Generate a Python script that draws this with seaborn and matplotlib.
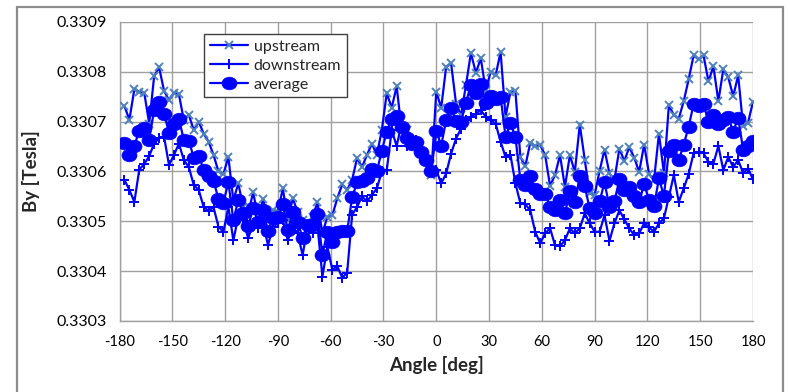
import numpy as np
import pandas as pd
import matplotlib
matplotlib.use("Agg")
import matplotlib.pyplot as plt
from matplotlib.path import Path
from matplotlib.patches import Rectangle
from matplotlib.ticker import MultipleLocator, FormatStrFormatter
import seaborn as sns

# Sampling angles: 128 steps over a full turn
angles = np.linspace(-177.1875, 180.0, 128)

upstream = [
    0.330731, 0.330704, 0.330765, 0.330760, 0.330758, 0.330696, 0.330791, 0.330809, 0.330762, 0.330743,
    0.330758, 0.330755, 0.330703, 0.330714, 0.330683, 0.330700, 0.330676, 0.330660, 0.330633, 0.330600,
    0.330595, 0.330629, 0.330542, 0.330576, 0.330529, 0.330516, 0.330558, 0.330509, 0.330544, 0.330509,
    0.330522, 0.330519, 0.330566, 0.330502, 0.330546, 0.330519, 0.330502, 0.330496, 0.330509, 0.330538,
    0.330476, 0.330509, 0.330512, 0.330546, 0.330574, 0.330563, 0.330583, 0.330627, 0.330609, 0.330633,
    0.330656, 0.330633, 0.330683, 0.330757, 0.330728, 0.330771, 0.330683, 0.330683, 0.330655, 0.330656,
    0.330636, 0.330623, 0.330593, 0.330760, 0.330728, 0.330810, 0.330817, 0.330736, 0.330713, 0.330773,
    0.330838, 0.330798, 0.330827, 0.330763, 0.330800, 0.330793, 0.330840, 0.330710, 0.330760, 0.330761,
    0.330629, 0.330611, 0.330658, 0.330651, 0.330653, 0.330633, 0.330571, 0.330593, 0.330633, 0.330569,
    0.330633, 0.330599, 0.330694, 0.330624, 0.330556, 0.330553, 0.330601, 0.330644, 0.330596, 0.330583,
    0.330646, 0.330621, 0.330649, 0.330628, 0.330599, 0.330654, 0.330595, 0.330583, 0.330676, 0.330596,
    0.330733, 0.330713, 0.330706, 0.330741, 0.330785, 0.330833, 0.330825, 0.330833, 0.330781, 0.330811,
    0.330741, 0.330805, 0.330789, 0.330751, 0.330793, 0.330691, 0.330698, 0.330740,
]

downstream = [
    0.330583, 0.330563, 0.330539, 0.330604, 0.330615, 0.330631, 0.330656, 0.330668, 0.330670, 0.330613,
    0.330633, 0.330656, 0.330623, 0.330609, 0.330573, 0.330563, 0.330529, 0.330521, 0.330528, 0.330489,
    0.330479, 0.330529, 0.330462, 0.330509, 0.330502, 0.330466, 0.330496, 0.330486, 0.330499, 0.330452,
    0.330489, 0.330496, 0.330502, 0.330462, 0.330489, 0.330476, 0.330432, 0.330489, 0.330476, 0.330492,
    0.330389, 0.330449, 0.330403, 0.330410, 0.330387, 0.330397, 0.330513, 0.330529, 0.330550, 0.330540,
    0.330553, 0.330566, 0.330600, 0.330603, 0.330683, 0.330651, 0.330696, 0.330651, 0.330655, 0.330663,
    0.330643, 0.330623, 0.330606, 0.330603, 0.330576, 0.330596, 0.330636, 0.330666, 0.330686, 0.330703,
    0.330710, 0.330716, 0.330723, 0.330710, 0.330703, 0.330696, 0.330660, 0.330629, 0.330633, 0.330576,
    0.330536, 0.330534, 0.330522, 0.330479, 0.330456, 0.330476, 0.330486, 0.330452, 0.330450, 0.330462,
    0.330486, 0.330476, 0.330486, 0.330516, 0.330496, 0.330479, 0.330479, 0.330512, 0.330461, 0.330496,
    0.330522, 0.330504, 0.330486, 0.330472, 0.330476, 0.330496, 0.330488, 0.330479, 0.330496, 0.330506,
    0.330549, 0.330593, 0.330539, 0.330566, 0.330595, 0.330637, 0.330639, 0.330637, 0.330619, 0.330616,
    0.330651, 0.330603, 0.330629, 0.330609, 0.330623, 0.330597, 0.330606, 0.330584,
]

average = [
    0.330657, 0.330634, 0.330652, 0.330682, 0.330687, 0.330664, 0.330724, 0.330739, 0.330716, 0.330678,
    0.330696, 0.330706, 0.330663, 0.330662, 0.330628, 0.330632, 0.330603, 0.330591, 0.330581, 0.330545,
    0.330537, 0.330579, 0.330502, 0.330543, 0.330516, 0.330491, 0.330527, 0.330498, 0.330522, 0.330481,
    0.330506, 0.330508, 0.330534, 0.330482, 0.330518, 0.330498, 0.330467, 0.330493, 0.330493, 0.330515,
    0.330433, 0.330479, 0.330458, 0.330478, 0.330481, 0.330480, 0.330548, 0.330578, 0.330580, 0.330587,
    0.330605, 0.330600, 0.330642, 0.330680, 0.330706, 0.330711, 0.330690, 0.330667, 0.330655, 0.330660,
    0.330640, 0.330623, 0.330600, 0.330682, 0.330652, 0.330703, 0.330727, 0.330701, 0.330700, 0.330738,
    0.330774, 0.330757, 0.330775, 0.330737, 0.330752, 0.330745, 0.330750, 0.330670, 0.330697, 0.330669,
    0.330583, 0.330573, 0.330590, 0.330565, 0.330555, 0.330555, 0.330529, 0.330523, 0.330542, 0.330516,
    0.330560, 0.330538, 0.330590, 0.330570, 0.330526, 0.330516, 0.330540, 0.330578, 0.330529, 0.330540,
    0.330584, 0.330563, 0.330568, 0.330550, 0.330538, 0.330575, 0.330542, 0.330531, 0.330586, 0.330551,
    0.330641, 0.330653, 0.330623, 0.330654, 0.330690, 0.330735, 0.330732, 0.330735, 0.330700, 0.330714,
    0.330696, 0.330704, 0.330709, 0.330680, 0.330708, 0.330644, 0.330652, 0.330662,
]

series_names = ["upstream", "downstream", "average"]
x_ticks = [-180, -150, -120, -90, -60, -30, 0, 30, 60, 90, 120, 150, 180]

sns.set_theme(style="white")
plt.rcParams["font.family"] = ["Lato", "DejaVu Sans"]

fig = plt.figure(figsize=(7.9, 3.92), dpi=100)
ax = fig.add_axes([119.5 / 790, 1 - 321 / 392, (753 - 119.5) / 790, (321 - 22) / 392])

BLUE = "#0000FF"
GRID = "#A0A0A0"

# slightly flattened circle used for the average markers
circ = Path.unit_circle()
ellipse = Path(circ.vertices * np.array([1.0, 0.84]), circ.codes)

df = pd.DataFrame({"angle": angles, "upstream": upstream,
                   "downstream": downstream, "average": average})

sns.lineplot(data=df, x="angle", y="upstream", ax=ax, sort=False,
             color=BLUE, linewidth=1.6, marker="x", markersize=5.5,
             markeredgecolor="#4F81BD", markeredgewidth=1.4,
             label=series_names[0], zorder=3)
sns.lineplot(data=df, x="angle", y="downstream", ax=ax, sort=False,
             color=BLUE, linewidth=1.6, marker="+", markersize=6.5,
             markeredgecolor=BLUE, markeredgewidth=1.4,
             label=series_names[1], zorder=3)
sns.lineplot(data=df, x="angle", y="average", ax=ax, sort=False,
             color=BLUE, linewidth=1.6, marker=ellipse, markersize=10.8,
             markeredgecolor=BLUE, markerfacecolor=BLUE, markeredgewidth=0.5,
             label=series_names[2], zorder=4)

ax.set_xlim(-180, 180)
ax.set_ylim(0.3303, 0.3309)
ax.set_xticks(x_ticks)
ax.set_xticklabels([str(t) for t in x_ticks])
ax.yaxis.set_major_locator(MultipleLocator(0.0001))
ax.yaxis.set_major_formatter(FormatStrFormatter("%.4f"))

ax.grid(True, color=GRID, linewidth=1.0)
ax.set_axisbelow(True)
for side in ["top", "right"]:
    ax.spines[side].set_visible(False)
for side in ["left", "bottom"]:
    ax.spines[side].set_color(GRID)
    ax.spines[side].set_linewidth(1.0)
ax.tick_params(axis="both", direction="out", length=5, width=1.0, color=GRID,
               labelcolor="#000000")
ax.tick_params(axis="y", labelsize=11.5, pad=4)
ax.tick_params(axis="x", labelsize=10.5, pad=5)

ax.set_xlabel("Angle [deg]", fontsize=13.5, fontweight="bold", labelpad=5)
ax.set_ylabel("By [Tesla]", fontsize=13.5, fontweight="bold", labelpad=12)

leg = ax.legend(loc="upper left", bbox_to_anchor=((204 - 119.5) / 633.5, 1 - 12 / 299),
                borderaxespad=0, fontsize=11.5, frameon=True, fancybox=False,
                framealpha=1, edgecolor="#404040", handlelength=2.4,
                handletextpad=0.35, labelspacing=0.3, borderpad=0.35)
leg.get_frame().set_linewidth(1.0)

# outer chart border
fig.patches.append(Rectangle((17 / 790, -0.05), (783 - 17) / 790, 1.05 - 7 / 392,
                             transform=fig.transFigure, fill=False,
                             edgecolor="#8C8C8C", linewidth=1.6))

fig.savefig("out.png", dpi=100)
